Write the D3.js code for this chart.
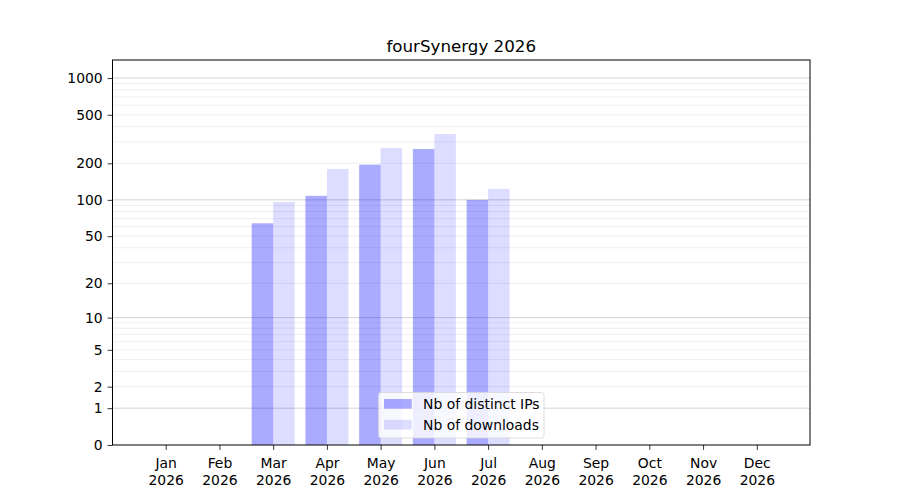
<!DOCTYPE html>
<html>
<head>
<meta charset="utf-8">
<script src="https://cdn.jsdelivr.net/npm/d3@7"></script>
<style>
  body { margin: 0; background: #fff; }
  svg text { font-family: "DejaVu Sans", sans-serif; }
</style>
</head>
<body>
<div id="chart"></div>
<script>
// data
var months = ["Jan","Feb","Mar","Apr","May","Jun","Jul","Aug","Sep","Oct","Nov","Dec"]
var year = "2026"
var distinctIPs = [0, 0, 64, 108, 195, 262, 100, 0, 0, 0, 0, 0]
var downloads   = [0, 0, 96, 180, 267, 348, 123, 0, 0, 0, 0, 0]
var yTickValues = [0, 1, 2, 5, 10, 20, 50, 100, 200, 500, 1000]
var majorGrid = [1, 10, 100, 1000]
var seriesNames = ["Nb of distinct IPs", "Nb of downloads"]

var width = 900, height = 500
var plotL = 112.5, plotR = 810, plotT = 60, plotB = 445
var fs = 13.9

var svg = d3.select("#chart").append("svg")
  .attr("width", width).attr("height", height)

// month index 1..12, bars of 0.4 either side
var x = d3.scaleLinear().domain([0.01, 12.99]).range([plotL, plotR])
var y = d3.scaleSymlog().constant(1).domain([0, 1405]).range([plotB, plotT])

// minor grid 2..9 per decade
var minorGrid = []
majorGrid.forEach(function(d){
  for (var k = 2; k <= 9; k++){
    if (k*d < 1405) minorGrid.push(k*d)
  }
})

svg.append("g").selectAll("line").data(minorGrid).enter().append("line")
  .attr("x1", plotL).attr("x2", plotR)
  .attr("y1", function(d){return y(d)}).attr("y2", function(d){return y(d)})
  .attr("stroke", "#ebebeb").attr("stroke-width", 0.8)
svg.append("g").selectAll("line").data(majorGrid).enter().append("line")
  .attr("x1", plotL).attr("x2", plotR)
  .attr("y1", function(d){return y(d)}).attr("y2", function(d){return y(d)})
  .attr("stroke", "#c8c8c8").attr("stroke-width", 0.8)

var bw = x(1.4) - x(1)
svg.append("g").selectAll("rect").data(distinctIPs).enter().append("rect")
  .attr("x", function(d,i){return x(i+1) - bw})
  .attr("width", bw)
  .attr("y", function(d){return y(d)})
  .attr("height", function(d){return plotB - y(d)})
  .attr("fill", "rgb(0,0,255)").attr("fill-opacity", 1/3)
svg.append("g").selectAll("rect").data(downloads).enter().append("rect")
  .attr("x", function(d,i){return x(i+1)})
  .attr("width", bw)
  .attr("y", function(d){return y(d)})
  .attr("height", function(d){return plotB - y(d)})
  .attr("fill", "rgb(0,0,255)").attr("fill-opacity", 0.134)

// axes
var yAxis = svg.append("g").attr("transform", "translate(" + plotL + ",0)")
  .call(d3.axisLeft(y).tickValues(yTickValues).tickFormat(d3.format("d")).tickSize(4.9).tickPadding(4.9))
var xAxis = svg.append("g").attr("transform", "translate(0," + plotB + ")")
  .call(d3.axisBottom(x).tickValues(d3.range(1, 13)).tickSize(4.9).tickPadding(4.9).tickFormat(""))

;[yAxis, xAxis].forEach(function(a){
  a.select(".domain").remove()
  a.selectAll("line").attr("stroke", "#000").attr("stroke-width", 0.8)
  a.selectAll("text").attr("font-size", fs).attr("fill", "#000")
    .attr("font-family", "DejaVu Sans, sans-serif")
})

xAxis.selectAll(".tick text").each(function(d){
  var t = d3.select(this).attr("dy", null).attr("y", 9.8)
  t.append("tspan").attr("x", 0).attr("dy", "0.95em").text(months[d-1])
  t.append("tspan").attr("x", 0).attr("dy", "1.2em").text(year)
})

// frame
svg.append("rect").attr("x", plotL).attr("y", plotT)
  .attr("width", plotR - plotL).attr("height", plotB - plotT)
  .attr("fill", "none").attr("stroke", "#000").attr("stroke-width", 1)

svg.append("text").attr("x", (plotL + plotR)/2).attr("y", 51.5)
  .attr("text-anchor", "middle").attr("font-size", 16.7).text("fourSynergy " + year)

// legend, lower center
var lg = svg.append("g").attr("transform", "translate(378.5,392.5)")
lg.append("rect").attr("width", 165.5).attr("height", 45.5).attr("rx", 2.5)
  .attr("fill", "#fff").attr("fill-opacity", 0.8)
  .attr("stroke", "#d6d6d6").attr("stroke-width", 0.8)
var opac = [1/3, 0.134]
seriesNames.forEach(function(name, i){
  var row = lg.append("g").attr("transform", "translate(0," + (i*20.8) + ")")
  row.append("rect").attr("x", 5.5).attr("y", 6.5).attr("width", 27.8).attr("height", 9.7)
    .attr("fill", "rgb(0,0,255)").attr("fill-opacity", opac[i])
  row.append("text").attr("x", 44.6).attr("y", 16.3).attr("font-size", fs).text(name)
})
</script>
</body>
</html>
